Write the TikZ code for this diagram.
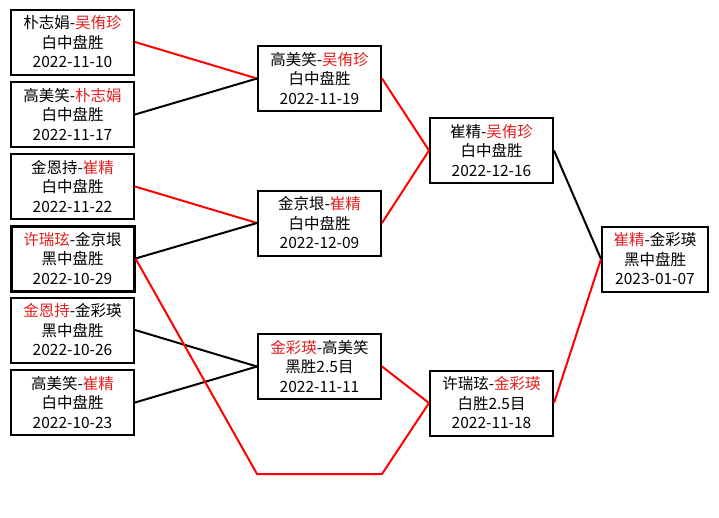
\documentclass[tikz,border=0pt]{standalone}
\usepackage{fontspec}
\setmainfont{Noto Sans CJK SC}
\usepackage{xcolor}
\usepackage{tikz}
\usetikzlibrary{positioning}

\definecolor{winred}{RGB}{228,30,30}
\newcommand{\wn}[1]{\textcolor{winred}{#1}}

\begin{document}
\begin{tikzpicture}[
      x=1pt, y=-1pt,
      game/.style={draw, line width=2pt, fill=white, align=center, minimum width=123pt, minimum height=65pt, inner sep=0pt, font=\fontsize{15.5}{19.5}\selectfont},
      key/.style={game, line width=3pt},
      fin/.style={game, minimum width=106pt},
      wl/.style={draw=red, line width=2pt},
      ll/.style={draw=black, line width=2pt}
    ]

    \fill[white] (0,0) rectangle (719,517);
    \useasboundingbox (0,0) rectangle (719,517);

    % ---- Runde 1: linke Spalte ----
    \node[game] (g1) at (72.5,42)  {朴志娟-\wn{吴侑珍}\\白中盘胜\\2022-11-10};
    \node[game] (g2) at (72.5,114.5) {高美笑-\wn{朴志娟}\\白中盘胜\\2022-11-17};
    \node[game] (g3) at (72.5,186.5) {金恩持-\wn{崔精}\\白中盘胜\\2022-11-22};
    \node[key]  (g4) at (72.5,258.5) {\wn{许瑞玹}-金京垠\\黑中盘胜\\2022-10-29};
    \node[game] (g5) at (72.5,330)  {\wn{金恩持}-金彩瑛\\黑中盘胜\\2022-10-26};
    \node[game] (g6) at (72.5,402.5) {高美笑-\wn{崔精}\\白中盘胜\\2022-10-23};

    % ---- Runde 2 ----
    \node[game] (s1) at (319.5,78.5) {高美笑-\wn{吴侑珍}\\白中盘胜\\2022-11-19};
    \node[game] (s2) at (319.5,223)  {金京垠-\wn{崔精}\\白中盘胜\\2022-12-09};
    \node[game] (s3) at (319.5,366.5) {\wn{金彩瑛}-高美笑\\黑胜2.5目\\2022-11-11};

    % ---- Halbfinale und Finale ----
    \node[game] (t1) at (491.5,150.5) {崔精-\wn{吴侑珍}\\白中盘胜\\2022-12-16};
    \node[game] (t2) at (491.5,403)  {许瑞玹-\wn{金彩瑛}\\白胜2.5目\\2022-11-18};
    \node[fin]  (final) at (655,259) {\wn{崔精}-金彩瑛\\黑中盘胜\\2023-01-07};

    \coordinate (low) at (0,474);

    % ---- Verbindungen ----
    \draw[wl] (g1.east) -- (s1.west);
    \draw[ll] (g2.east) -- (s1.west);
    \draw[wl] (g3.east) -- (s2.west);
    \draw[ll] (g4.east) -- (s2.west);
    \draw[ll] (g5.east) -- (s3.west);
    \draw[ll] (g6.east) -- (s3.west);
    % Umweg unter s3 hindurch
    \draw[wl] (g4.east) -- (low -| s3.west) -- (low -| s3.east) -- (t2.west);

    \draw[wl] (s1.east) -- (t1.west);
    \draw[wl] (s2.east) -- (t1.west);
    \draw[wl] (s3.east) -- (t2.west);

    \draw[ll] (t1.east) -- (final.west);
    \draw[wl] (t2.east) -- (final.west);

\end{tikzpicture}
\end{document}
